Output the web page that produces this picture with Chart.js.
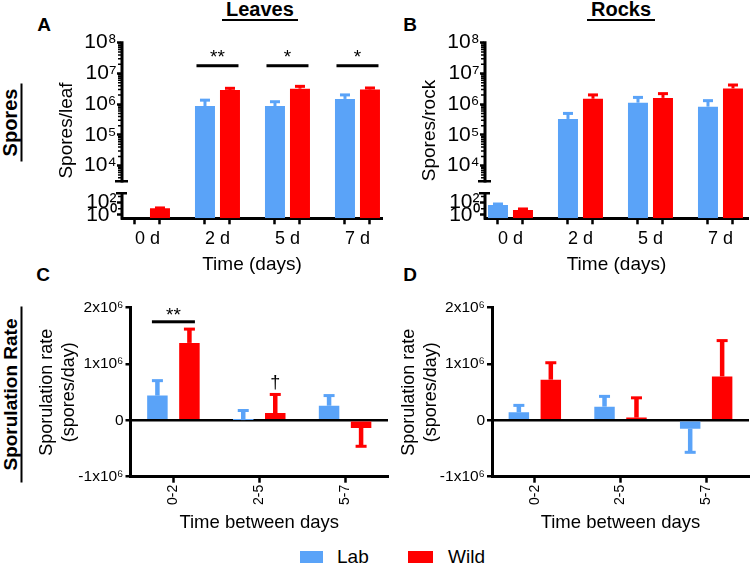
<!DOCTYPE html>
<html><head><meta charset="utf-8">
<script src="https://cdn.jsdelivr.net/npm/chart.js@4.4.1/dist/chart.umd.min.js"></script>
<style>
html,body{margin:0;padding:0;background:#fff;}
body{width:750px;height:565px;position:relative;overflow:hidden;font-family:"Liberation Sans",Arial,sans-serif;color:#000;}
canvas{position:absolute;}
.abs{position:absolute;white-space:nowrap;}
.letter{font-weight:bold;font-size:19px;line-height:19px;transform:translate(-50%,-50%);}
.hd{font-weight:bold;font-size:20px;line-height:20px;border-bottom:2px solid #000;padding:0 4px;}
.vhd{font-weight:bold;line-height:21px;border-bottom:2px solid #000;text-align:center;transform:rotate(-90deg);}
.sw{position:absolute;}
.lg{position:absolute;font-size:19px;line-height:20px;}
</style></head><body>
<div class="abs letter" style="left:44px;top:24px">A</div>
<div class="abs letter" style="left:410px;top:24px">B</div>
<div class="abs letter" style="left:43px;top:274px">C</div>
<div class="abs letter" style="left:410px;top:274px">D</div>
<div class="abs hd" style="left:222px;top:-1px">Leaves</div>
<div class="abs hd" style="left:587px;top:-1px">Rocks</div>
<div class="abs vhd" style="font-size:20px;width:78px;height:21px;left:-28.5px;top:110.5px">Spores</div>
<div class="abs vhd" style="font-size:19px;width:176px;height:21px;left:-77.5px;top:382.5px">Sporulation Rate</div>
<div class="sw" style="left:300px;top:551px;width:23px;height:12px;background:#5aa3f8"></div>
<div class="lg" style="left:337px;top:547px">Lab</div>
<div class="sw" style="left:408px;top:551px;width:25px;height:12px;background:#ff0000"></div>
<div class="lg" style="left:448px;top:547px">Wild</div>
<script>
const BLUE = '#5aa3f8', RED = '#ff0000';

// categories and tick values
const timeCats = ['0 d', '2 d', '5 d', '7 d'];
const rateCats = ['0-2', '2-5', '5-7'];
const logTicks = [1, 100, 1e4, 1e5, 1e6, 1e7, 1e8];
const rateTicks = [-1e6, 0, 1e6, 2e6];

// A: spores per leaf (mean, SEM)
const leavesLab = [0, 8.7e5, 8.7e5, 1.48e6];
const leavesLabErr = [0, 4.8e5, 3.3e5, 5.2e5];
const leavesWild = [12, 2.9e6, 3.2e6, 3.0e6];
const leavesWildErr = [2, 3.8e5, 6.0e5, 3.6e5];
// B: spores per rock
const rocksLab = [43, 3.3e5, 1.12e6, 8.3e5];
const rocksLabErr = [18, 1.7e5, 5.4e5, 4.7e5];
const rocksWild = [6.5, 1.5e6, 1.6e6, 3.25e6];
const rocksWildErr = [3, 5.0e5, 6.0e5, 9.5e5];
// C: sporulation rate, leaves
const leafRateLab = [4.4e5, 5e3, 2.6e5];
const leafRateLabErr = [2.65e5, 1.7e5, 1.8e5];
const leafRateWild = [1.375e6, 1.3e5, -1.35e5];
const leafRateWildErr = [2.45e5, 3.3e5, 3.25e5];
// D: sporulation rate, rocks
const rockRateLab = [1.42e5, 2.43e5, -1.47e5];
const rockRateLabErr = [1.24e5, 1.83e5, 4.2e5];
const rockRateWild = [7.23e5, 5e4, 7.8e5];
const rockRateWildErr = [3.0e5, 3.5e5, 6.36e5];

// significance marks
const leavesSig = [{cat:1, text:'**', line:1.78e7, at:3.2e7}, {cat:2, text:'*', line:1.78e7, at:3.2e7}, {cat:3, text:'*', line:1.78e7, at:3.2e7}];
const rocksSig = [];
const leafRateSig = [{cat:0, text:'**', line:1.75e6, at:1.86e6}, {cat:1, text:'\u2020', series:1, at:6.7e5}];
const rockRateSig = [];

Chart.defaults.font.family = "'Liberation Sans', Arial, sans-serif";
Chart.defaults.color = '#000';

const BRK = {upLog:[3.49, 8], lowLog:[-0.54, 3.53], split:3.5, upPx:37, lowPx:25};

class BrokenLogScale extends Chart.LinearScale {
  determineDataLimits() { this.min = 0; this.max = 1e8; }
  buildTicks() { return logTicks.map(v => ({value: v})); }
  getPixelForValue(value) {
    const b = BRK;
    if (!(value > 0)) return this.bottom;
    const lg = Math.log10(value);
    if (lg <= b.split) {
      const l = Math.max(lg, b.lowLog[0]);
      return this.bottom - (l - b.lowLog[0]) / (b.lowLog[1] - b.lowLog[0]) * b.lowPx;
    }
    const y0 = this.bottom - b.upPx;
    return y0 - (lg - b.upLog[0]) / (b.upLog[1] - b.upLog[0]) * (y0 - this.top);
  }
  getValueForPixel(pixel) {
    const b = BRK;
    const y0 = this.bottom - b.upPx;
    if (pixel <= y0) return Math.pow(10, b.upLog[0] + (y0 - pixel) / (y0 - this.top) * (b.upLog[1] - b.upLog[0]));
    return Math.pow(10, b.lowLog[0] + (this.bottom - pixel) / b.lowPx * (b.lowLog[1] - b.lowLog[0]));
  }
  drawBorder() {
    const ctx = this.ctx, x = this.right, b = BRK;
    const yUpBot = this.bottom - b.upPx, yLowTop = this.bottom - b.lowPx;
    ctx.save();
    ctx.strokeStyle = '#000';
    ctx.lineWidth = 3;
    ctx.beginPath();
    ctx.moveTo(x, this.top - 1.5); ctx.lineTo(x, yUpBot + 1.2);
    ctx.moveTo(x, yLowTop - 1.2); ctx.lineTo(x, this.bottom + 1.5);
    ctx.stroke();
    ctx.lineWidth = 2.5;
    ctx.beginPath();
    ctx.moveTo(x - 7, yUpBot); ctx.lineTo(x + 6, yUpBot);
    ctx.moveTo(x - 6, yLowTop); ctx.lineTo(x + 5, yLowTop);
    ctx.stroke();
    ctx.lineWidth = 1.5;
    ctx.beginPath();
    for (let d = 3; d < 8; d++) {
      for (let m = 2; m < 10; m++) {
        const v = m * Math.pow(10, d);
        if (Math.log10(v) <= b.upLog[0] + 0.03) continue;
        const y = this.getPixelForValue(v);
        ctx.moveTo(x - 4, y); ctx.lineTo(x, y);
      }
    }
    [10, 1000].forEach(v => { const y = this.getPixelForValue(v); ctx.moveTo(x - 4, y); ctx.lineTo(x, y); });
    ctx.stroke();
    ctx.restore();
  }
}
BrokenLogScale.id = 'brokenLog';
BrokenLogScale.defaults = {};
Chart.register(BrokenLogScale);

function sup(n) { const m = '\u2070\u00b9\u00b2\u00b3\u2074\u2075\u2076\u2077\u2078\u2079'; return String(n).split('').map(c => m[+c]).join(''); }
function logLabel(v) { return '10' + sup(Math.round(Math.log10(v))); }
function rateLabel(v) { if (v === 0) return '0'; return (v / 1e6) + 'x10\u2076'; }

const annot = {
  id: 'annot',
  afterDatasetsDraw(chart, args, o) {
    const ctx = chart.ctx, xs = chart.scales.x, ys = chart.scales.y;
    ctx.save();
    chart.data.datasets.forEach((ds, di) => {
      const meta = chart.getDatasetMeta(di);
      meta.data.forEach((bar, i) => {
        const raw = ds.data[i];
        const v = (raw !== null && typeof raw === 'object') ? raw.y : raw;
        const e = ds.err[i];
        if (!e) return;
        const dir = v < 0 ? -1 : 1;
        const p0 = ys.getPixelForValue(v), p1 = ys.getPixelForValue(v + dir * e);
        ctx.fillStyle = ds.backgroundColor;
        ctx.fillRect(bar.x - o.stem / 2, Math.min(p0, p1), o.stem, Math.abs(p1 - p0));
        ctx.fillRect(bar.x - o.cap / 2, p1 - o.capH / 2, o.cap, o.capH);
      });
    });
    ctx.fillStyle = '#000';
    ctx.textAlign = 'center';
    ctx.textBaseline = 'middle';
    (o.sig || []).forEach(s => {
      const x = (s.series != null) ? chart.getDatasetMeta(s.series).data[s.cat].x : xs.getPixelForValue(s.cat);
      if (s.line != null) {
        const y = ys.getPixelForValue(s.line);
        ctx.fillRect(x - o.half, y - 1.5, 2 * o.half, 3);
      }
      ctx.font = (s.text === '\u2020' ? o.daggerSize : o.starSize) + "px 'Liberation Sans', Arial, sans-serif";
      ctx.fillText(s.text, x, ys.getPixelForValue(s.at));
    });
    ctx.restore();
  }
};

function mk(left, top, w, h, cfg) {
  const c = document.createElement('canvas');
  c.width = w; c.height = h;
  c.style.left = left + 'px'; c.style.top = top + 'px';
  c.style.width = w + 'px'; c.style.height = h + 'px';
  document.body.appendChild(c);
  return new Chart(c, cfg);
}

function sporeCfg(labV, labE, wildV, wildE, yTitle, padLeft, padRight, xMax, sig) {
  const half = 12.5 / 70;
  const xMin = -0.364;
  return {
    type: 'bar',
    data: { datasets: [
      {label: 'Lab', data: labV.map((v, i) => ({x: i, y: v})), err: labE, backgroundColor: BLUE, xAxisID: 'x', yAxisID: 'y'},
      {label: 'Wild', data: wildV.map((v, i) => ({x: i, y: v})), err: wildE, backgroundColor: RED, xAxisID: 'x', yAxisID: 'y'}
    ]},
    options: {
      responsive: false, animation: false, devicePixelRatio: 1,
      layout: {padding: {left: padLeft, right: padRight, top: 42.7, bottom: 0}},
      datasets: {bar: {categoryPercentage: 50 / 70, barPercentage: 0.8, borderWidth: 0}},
      plugins: {legend: {display: false}, tooltip: {enabled: false},
        annot: {stem: 3, cap: 10, capH: 3, half: 21, starSize: 19, daggerSize: 18, sig: sig}},
      scales: {
        xt: {type: 'linear', axis: 'x', position: 'bottom', weight: 0, min: xMin, max: xMax, bounds: 'data', offset: false,
          afterBuildTicks: s => { const t = []; timeCats.forEach((c, i) => { t.push({value: i - half}, {value: i + half}); }); s.ticks = t; },
          ticks: {display: false},
          grid: {display: true, offset: false, drawOnChartArea: false, drawTicks: true, tickLength: 6, tickWidth: 2.5, tickColor: '#000'},
          border: {display: true, width: 3, color: '#000'},
          afterFit: s => { s.height = 6; }},
        x: {type: 'linear', position: 'bottom', weight: 1, min: xMin, max: xMax, bounds: 'data', offset: false,
          afterBuildTicks: s => { s.ticks = timeCats.map((c, i) => ({value: i})); },
          ticks: {callback: v => timeCats[v], autoSkip: false, maxRotation: 0, minRotation: 0, padding: 4, font: {size: 18}, color: '#000'},
          grid: {display: false, offset: false, drawTicks: false}, border: {display: false},
          title: {display: true, text: 'Time (days)', font: {size: 19}, color: '#000', padding: {top: 0, bottom: 3.6}},
          afterFit: s => { s.height = 55.7; }},
        y: {type: 'brokenLog', position: 'left',
          ticks: {callback: v => logLabel(v), autoSkip: false, padding: 0.5, font: {size: 21}, color: '#000'},
          grid: {display: true, drawOnChartArea: false, drawTicks: true, tickLength: 5, tickWidth: 2.5, tickColor: '#000'},
          border: {display: true, width: 3, color: '#000'},
          title: {display: true, text: yTitle, font: {size: 19}, color: '#000', padding: {top: 15.6, bottom: 0}},
          afterFit: s => { s.width = 82; }}
      }
    },
    plugins: [annot]
  };
}

function rateCfg(labV, labE, wildV, wildE, padLeft, yWidth, padRight, sig) {
  return {
    type: 'bar',
    data: {labels: rateCats, datasets: [
      {label: 'Lab', data: labV, err: labE, backgroundColor: BLUE},
      {label: 'Wild', data: wildV, err: wildE, backgroundColor: RED}
    ]},
    options: {
      responsive: false, animation: false, devicePixelRatio: 1,
      layout: {padding: {left: padLeft, right: padRight, top: 27.7, bottom: 30}},
      datasets: {bar: {categoryPercentage: 0.746, barPercentage: 0.64, borderWidth: 0}},
      plugins: {legend: {display: false}, tooltip: {enabled: false},
        annot: {stem: 4.5, cap: 11, capH: 3, half: 21.5, starSize: 19, daggerSize: 18, sig: sig}},
      scales: {
        x: {type: 'category', offset: true,
          grid: {display: true, offset: false, drawOnChartArea: false, tickLength: 6, tickWidth: 2.5, tickColor: '#000'},
          border: {display: true, width: 3, color: '#000'},
          ticks: {autoSkip: false, minRotation: 90, maxRotation: 90, padding: 2, font: {size: 14}, color: '#000'},
          title: {display: true, text: 'Time between days', font: {size: 18.5}, color: '#000', padding: {top: 0, bottom: 1}},
          afterFit: s => { s.height = 58.3; }},
        y: {type: 'linear', min: -1e6, max: 2e6, bounds: 'data',
          afterBuildTicks: s => { s.ticks = rateTicks.map(v => ({value: v})); },
          ticks: {callback: v => rateLabel(v), autoSkip: false, padding: 2, font: {size: 15.5}, color: '#000'},
          grid: {display: true, drawOnChartArea: true,
            color: c => (c.tick && c.tick.value === 0) ? '#000' : 'rgba(0,0,0,0)',
            lineWidth: 2.5, drawTicks: true, tickLength: 5, tickWidth: 2.5, tickColor: '#000'},
          border: {display: true, width: 3, color: '#000'},
          title: {display: true, text: ['Sporulation rate', '(spores/day)'], font: {size: 18, lineHeight: 1.2}, color: '#000', padding: {top: 11.5, bottom: 0}},
          afterFit: s => { s.width = yWidth; }}
      }
    },
    plugins: [annot]
  };
}

mk(0, 0, 385, 280, sporeCfg(leavesLab, leavesLabErr, leavesWild, leavesWildErr, 'Spores/leaf', 40, 3, -0.364 + 260 / 70, leavesSig));
mk(375, 0, 375, 280, sporeCfg(rocksLab, rocksLabErr, rocksWild, rocksWildErr, 'Spores/rock', 28, 2, -0.364 + 263 / 70, rocksSig));
mk(0, 280, 390, 285, rateCfg(leafRateLab, leafRateLabErr, leafRateWild, leafRateWildErr, 25, 105.5, 2, leafRateSig));
mk(375, 280, 375, 285, rateCfg(rockRateLab, rockRateLabErr, rockRateWild, rockRateWildErr, 12, 105, 1, rockRateSig));
</script>
</body></html>
